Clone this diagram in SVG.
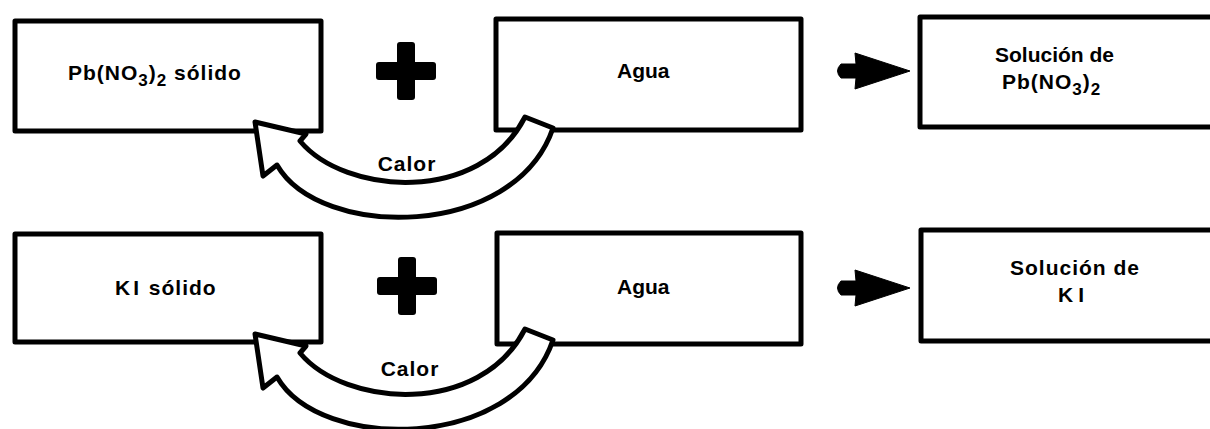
<svg xmlns="http://www.w3.org/2000/svg" width="1210" height="429" viewBox="0 0 1210 429">
  <defs>
    <style>
      .box { fill: #ffffff; stroke: #000000; stroke-width: 5; stroke-linejoin: round; }
      .lbl { font-family: "Liberation Sans", Arial, sans-serif; font-size: 21px; font-weight: bold; fill: #000000; letter-spacing: 1px; }
      .tight { letter-spacing: 0px; }
      .sub { font-size: 17px; }
      .curved { fill: #ffffff; stroke: #000000; stroke-width: 5; stroke-linejoin: round; }
      .solid { fill: #000000; stroke: #000000; stroke-width: 1; stroke-linejoin: round; }
    </style>
    <path id="bigArrow" d="M 841,-7 L 856,-7 L 855,-18 L 910,0 L 855,18 L 856,7 L 841,7 Q 834,0 841,-7 Z"/>
    <g id="plusSign">
      <rect x="-30" y="-9" width="60" height="18" rx="3"/>
      <rect x="-9" y="-29" width="18" height="58" rx="3"/>
    </g>
  </defs>
  <rect x="0" y="0" width="1210" height="429" fill="#ffffff"/>

  <!-- Row 1 nodes -->
  <g id="pbno3-solido">
    <rect class="box" x="15" y="21" width="306" height="110"/>
    <text class="lbl" x="68" y="80">Pb(NO<tspan class="sub" dy="6">3</tspan><tspan dy="-6">)</tspan><tspan class="sub" dy="6">2</tspan><tspan dy="-6"> sólido</tspan></text>
  </g>
  <g id="plus-1" fill="#000000" transform="translate(406,71)">
    <use href="#plusSign"/>
  </g>
  <g id="agua-1">
    <rect class="box" x="496" y="19" width="305" height="111"/>
    <text class="lbl tight" x="617" y="78">Agua</text>
  </g>
  <g id="solucion-pbno3">
    <rect class="box" x="920" y="17" width="300" height="110"/>
    <text class="lbl tight" x="995" y="62">Solución de</text>
    <text class="lbl" x="1002" y="89">Pb(NO<tspan class="sub" dy="6">3</tspan><tspan dy="-6">)</tspan><tspan class="sub" dy="6">2</tspan></text>
  </g>

  <!-- Row 2 nodes -->
  <g id="ki-solido">
    <rect class="box" x="15" y="234" width="306" height="108"/>
    <text class="lbl" x="115" y="295"><tspan style="letter-spacing:3px">KI</tspan> sólido</text>
  </g>
  <g id="plus-2" fill="#000000" transform="translate(407,286)">
    <use href="#plusSign"/>
  </g>
  <g id="agua-2">
    <rect class="box" x="497" y="233" width="304" height="111"/>
    <text class="lbl tight" x="617" y="294">Agua</text>
  </g>
  <g id="solucion-ki">
    <rect class="box" x="921" y="230" width="300" height="111"/>
    <text class="lbl" x="1010" y="275">Solución de</text>
    <text class="lbl" x="1058" y="302" style="letter-spacing:5px">KI</text>
  </g>

  <!-- Connectors -->
  <g id="connectors">
    <use href="#bigArrow" class="solid" transform="translate(0,71)"/>
    <use href="#bigArrow" class="solid" transform="translate(0,288)"/>
    <g id="calor-1">
      <path class="curved" d="M 255,122 L 306,134 L 300,141 C 345,195 480,205 525,117 L 553,128 C 515,240 320,240 277,165 L 263,176 Z"/>
      <text class="lbl" x="407" y="171" text-anchor="middle">Calor</text>
    </g>
    <g id="calor-2">
      <path class="curved" transform="translate(0,212)" d="M 255,122 L 306,134 L 300,141 C 345,195 480,205 525,117 L 553,128 C 515,240 320,240 277,165 L 263,176 Z"/>
      <text class="lbl" x="410" y="376" text-anchor="middle">Calor</text>
    </g>
  </g>
</svg>
